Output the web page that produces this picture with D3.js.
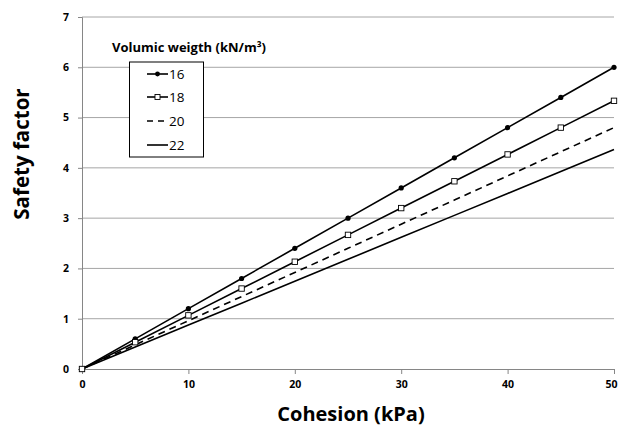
<!DOCTYPE html>
<html>
<head>
<meta charset="utf-8">
<script src="https://cdn.jsdelivr.net/npm/d3@7"></script>
<style>
body { margin: 0; background: #fff; }
text { font-family: "Open Sans", Lato, sans-serif; font-weight: bold; }
</style>
</head>
<body>
<div id="chart"></div>
<script>
// data
var cohesion = [0, 5, 10, 15, 20, 25, 30, 35, 40, 45, 50];
var sf16 = [0, 0.6, 1.2, 1.8, 2.4, 3.0, 3.6, 4.2, 4.8, 5.4, 6.0];
var sf18 = [0, 0.533, 1.067, 1.6, 2.133, 2.667, 3.2, 3.733, 4.267, 4.8, 5.333];
var sf20 = [0, 0.48, 0.96, 1.44, 1.92, 2.4, 2.88, 3.36, 3.84, 4.32, 4.8];
var sf22 = [0, 0.436, 0.873, 1.309, 1.745, 2.182, 2.618, 3.055, 3.491, 3.927, 4.364];
var seriesNames = ['16', '18', '20', '22'];
var xTicks = [0, 10, 20, 30, 40, 50];
var yTicks = [0, 1, 2, 3, 4, 5, 6, 7];

var margin = { top: 17, right: 4, bottom: 60, left: 82 };
var width = 618 - margin.left - margin.right;
var height = 429 - margin.top - margin.bottom;

var svg = d3.select('#chart').append('svg')
	.attr('width', 618)
	.attr('height', 429);

var g = svg.append('g')
	.attr('transform', 'translate(' + margin.left + ',' + margin.top + ')');

var x = d3.scaleLinear().domain([0, 50]).range([0, width]);
var y = d3.scaleLinear().domain([0, 7]).range([height, 0]);

// gridlines
g.selectAll('.grid')
	.data(yTicks.slice(1))
	.enter().append('line')
	.attr('x1', 0).attr('x2', width)
	.attr('y1', function(d) { return y(d); })
	.attr('y2', function(d) { return y(d); })
	.attr('stroke', '#a6a6a6')
	.attr('stroke-width', 1);

// y axis
var yAxis = d3.axisLeft(y).tickValues(yTicks).tickFormat(d3.format('d')).tickSize(4).tickPadding(9);
var yG = g.append('g').call(yAxis);
yG.select('.domain').attr('stroke', '#868686');
yG.selectAll('.tick line').attr('stroke', '#868686');
yG.selectAll('.tick text').style('font-size', '10.5px').attr('fill', '#000');

// x axis
var xAxis = d3.axisBottom(x).tickValues(xTicks).tickFormat(d3.format('d')).tickSize(5).tickPadding(7);
var xG = g.append('g').attr('transform', 'translate(0,' + height + ')').call(xAxis);
xG.select('.domain').attr('stroke', '#868686');
xG.selectAll('.tick line').attr('stroke', '#868686');
xG.selectAll('.tick text').style('font-size', '10.5px').attr('fill', '#000');
// keep the last label inside the window
xG.selectAll('.tick text').filter(function(d) { return d == 50; }).attr('dx', '-3');

// lines
var series = [sf16, sf18, sf20, sf22];
var dashes = [null, null, '7,5', null];
var line = d3.line()
	.x(function(d, i) { return x(cohesion[i]); })
	.y(function(d) { return y(d); });

series.forEach(function(s, k) {
	g.append('path')
		.datum(s)
		.attr('d', line)
		.attr('fill', 'none')
		.attr('stroke', '#000')
		.attr('stroke-width', 1.6)
		.attr('stroke-dasharray', dashes[k]);
});

// markers
g.selectAll('.dot16')
	.data(sf16)
	.enter().append('circle')
	.attr('cx', function(d, i) { return x(cohesion[i]); })
	.attr('cy', function(d) { return y(d); })
	.attr('r', 2.6)
	.attr('fill', '#000');

g.selectAll('.sq18')
	.data(sf18)
	.enter().append('rect')
	.attr('x', function(d, i) { return x(cohesion[i]) - 2.7; })
	.attr('y', function(d) { return y(d) - 2.7; })
	.attr('width', 5.4).attr('height', 5.4)
	.attr('fill', '#fff')
	.attr('stroke', '#000')
	.attr('stroke-width', 0.9);

// legend
svg.append('text')
	.attr('x', 112).attr('y', 52)
	.style('font-size', '13px')
	.text('Volumic weigth (kN/m³)');

svg.append('rect')
	.attr('x', 129.5).attr('y', 62)
	.attr('width', 74).attr('height', 95)
	.attr('fill', '#fff')
	.attr('stroke', '#000')
	.attr('stroke-width', 1);

var legY = [74, 97, 121, 145];
var legDash = [null, null, '6,5', null];
seriesNames.forEach(function(name, k) {
	var ly = legY[k];
	svg.append('line')
		.attr('x1', 147).attr('x2', 168)
		.attr('y1', ly).attr('y2', ly)
		.attr('stroke', '#000')
		.attr('stroke-width', 1.6)
		.attr('stroke-dasharray', legDash[k]);
	if (k == 0) {
		svg.append('circle').attr('cx', 157.5).attr('cy', ly).attr('r', 2.4).attr('fill', '#000');
	}
	if (k == 1) {
		svg.append('rect').attr('x', 155).attr('y', ly - 2.5).attr('width', 5).attr('height', 5)
			.attr('fill', '#fff').attr('stroke', '#000').attr('stroke-width', 0.9);
	}
	svg.append('text')
		.attr('x', 169).attr('y', ly + 5)
		.style('font-size', '13.5px')
		.style('font-weight', 'normal')
		.text(name);
});

// axis titles
svg.append('text')
	.attr('x', 351).attr('y', 421)
	.attr('text-anchor', 'middle')
	.style('font-size', '20px')
	.text('Cohesion (kPa)');

svg.append('text')
	.attr('transform', 'translate(29,154) rotate(-90)')
	.attr('text-anchor', 'middle')
	.style('font-size', '20.5px')
	.text('Safety factor');
</script>
</body>
</html>
